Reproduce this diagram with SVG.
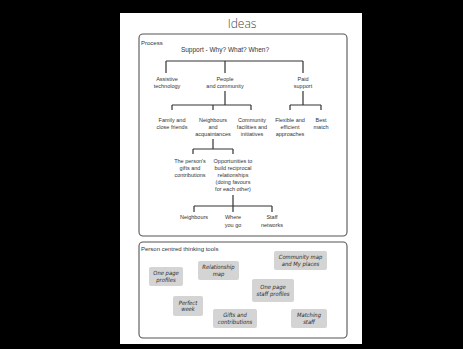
<svg xmlns="http://www.w3.org/2000/svg" width="463" height="349" viewBox="0 0 463 349">
<style>
.t{font-family:"Liberation Sans",Arial,sans-serif;font-size:5.5px;fill:#333;text-anchor:middle}
.h{font-family:"Liberation Sans",Arial,sans-serif;fill:#333}
.frame{fill:none;stroke:#555;stroke-width:1.1}
.ln{fill:none;stroke:#333;stroke-width:1.2}
.card{fill:#d4d4d4}
.w{font-family:"DejaVu Sans Condensed","DejaVu Sans",sans-serif;font-style:italic;font-size:5.8px;fill:#2a2a2a;text-anchor:middle}
</style>
<rect width="463" height="349" fill="#000"/>
<rect x="120" y="13" width="242" height="331" fill="#fff"/>
<text x="242" y="28" font-family="Open Sans, Liberation Sans, sans-serif" font-weight="300" font-size="12" fill="#444" text-anchor="middle">Ideas</text>

<g id="process">
<rect class="frame" x="139" y="34" width="208" height="202" rx="4"/>
<text class="h" x="141" y="45" font-size="6">Process</text>
</g>
<g id="support"><text class="h" x="225" y="52" font-size="6.5" text-anchor="middle">Support - Why? What? When?</text></g>

<g id="connectors">
<path class="ln" d="M166 61H303M166 61V73M225 61V73M303 61V73"/>
<path class="ln" d="M225 91V105M172 105H251M172 105V110M213 105V110M251 105V110"/>
<path class="ln" d="M303 91V105M290 105H321M290 105V110M321 105V110"/>
<path class="ln" d="M213 139V149M193 149H233M193 149V154M233 149V154"/>
<path class="ln" d="M233 195V206M194 206H272M194 206V212M233 206V212M272 206V212"/>
</g>

<g id="assistive"><text class="t" x="167" y="80.5">Assistive</text><text class="t" x="167" y="87.5">technology</text></g>
<g id="people"><text class="t" x="225" y="80.5">People</text><text class="t" x="225" y="87.5">and community</text></g>
<g id="paid"><text class="t" x="303" y="80.5">Paid</text><text class="t" x="303" y="87.5">support</text></g>

<g id="family"><text class="t" x="172" y="121.5">Family and</text><text class="t" x="172" y="128.5">close friends</text></g>
<g id="neighbours-acq"><text class="t" x="213" y="121.5">Neighbours</text><text class="t" x="213" y="128.5">and</text><text class="t" x="213" y="135.5">acquaintances</text></g>
<g id="community"><text class="t" x="252" y="121.5">Community</text><text class="t" x="252" y="128.5">facilities and</text><text class="t" x="252" y="135.5">initiatives</text></g>
<g id="flexible"><text class="t" x="290" y="121.5">Flexible and</text><text class="t" x="290" y="128.5">efficient</text><text class="t" x="290" y="135.5">approaches</text></g>
<g id="best"><text class="t" x="321" y="121.5">Best</text><text class="t" x="321" y="128.5">match</text></g>

<g id="gifts"><text class="t" x="190" y="163">The person's</text><text class="t" x="190" y="170">gifts and</text><text class="t" x="190" y="177">contributions</text></g>
<g id="opportunities"><text class="t" x="233" y="163">Opportunities to</text><text class="t" x="233" y="170">build reciprocal</text><text class="t" x="233" y="177">relationships</text><text class="t" x="233" y="184">(doing favours</text><text class="t" x="233" y="191">for each other)</text></g>

<g id="neighbours"><text class="t" x="194" y="219">Neighbours</text></g>
<g id="where"><text class="t" x="233" y="219">Where</text><text class="t" x="233" y="227">you go</text></g>
<g id="staff"><text class="t" x="272" y="219">Staff</text><text class="t" x="272" y="227">networks</text></g>

<g id="tools">
<rect class="frame" x="139" y="242" width="208" height="96" rx="4"/>
<text class="h" x="141" y="251" font-size="6">Person centred thinking tools</text>
</g>
<g id="community-map"><rect class="card" x="274" y="251" width="53" height="19" rx="2"/><text class="w" x="300.5" y="259">Community map</text><text class="w" x="300.5" y="265.5">and My places</text></g>
<g id="relationship-map"><rect class="card" x="198" y="261" width="41" height="19" rx="2"/><text class="w" x="218.5" y="269">Relationship</text><text class="w" x="218.5" y="275.5">map</text></g>
<g id="one-page-profiles"><rect class="card" x="149" y="267" width="34" height="19" rx="2"/><text class="w" x="166" y="275">One page</text><text class="w" x="166" y="281.5">profiles</text></g>
<g id="staff-profiles"><rect class="card" x="252" y="279" width="42" height="23" rx="2"/><text class="w" x="273" y="289">One page</text><text class="w" x="273" y="295.5">staff profiles</text></g>
<g id="perfect-week"><rect class="card" x="173" y="296" width="30" height="20" rx="2"/><text class="w" x="188" y="304.5">Perfect</text><text class="w" x="188" y="311">week</text></g>
<g id="gifts-contributions"><rect class="card" x="213" y="309" width="44" height="19" rx="2"/><text class="w" x="235" y="317">Gifts and</text><text class="w" x="235" y="323.5">contributions</text></g>
<g id="matching-staff"><rect class="card" x="291" y="309" width="36" height="19" rx="2"/><text class="w" x="309" y="317">Matching</text><text class="w" x="309" y="323.5">staff</text></g>
</svg>
